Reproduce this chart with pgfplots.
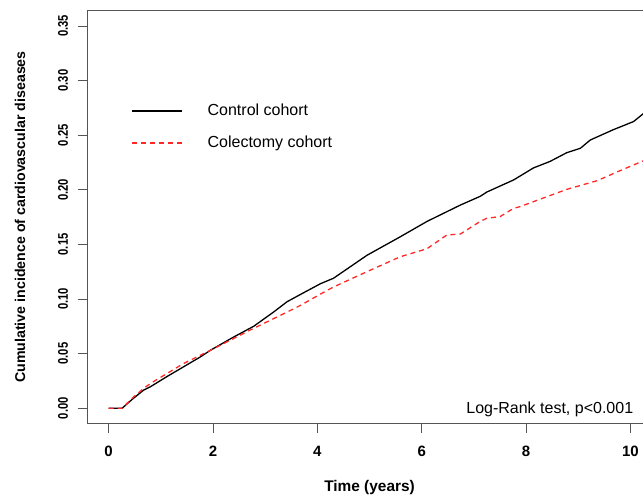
\documentclass[border=0pt]{standalone}
\usepackage{graphicx}
\usepackage{pgfplots}
\pgfplotsset{compat=1.18}
\usepackage{fontspec}
\setmainfont{Liberation Sans}

\definecolor{kmred}{RGB}{255,40,40}
\definecolor{axgray}{RGB}{85,85,85}

% cumulative incidence
\pgfplotstableread{
t      v
0      0
0.26   0
0.45   0.008
0.67   0.0165
0.80   0.0196
1.12   0.029
1.44   0.038
1.76   0.047
1.95   0.053
2.39   0.065
2.78   0.075
3.16   0.088
3.42   0.0975
3.67   0.104
4.06   0.114
4.31   0.119
4.95   0.140
5.59   0.157
6.10   0.171
6.74   0.186
7.12   0.194
7.25   0.198
7.76   0.209
8.14   0.220
8.46   0.226
8.78   0.234
9.04   0.238
9.23   0.2456
9.67   0.255
10.06  0.2625
10.24  0.2695
10.30  0.2710
}\control

\pgfplotstableread{
t      v
0      0
0.26   0
0.48   0.0104
0.67   0.018
0.80   0.0226
1.44   0.041
1.95   0.053
2.71   0.0715
3.42   0.088
3.67   0.094
4.06   0.1045
4.31   0.111
4.95   0.125
5.59   0.1387
6.10   0.146
6.48   0.1586
6.74   0.1595
7.12   0.171
7.25   0.174
7.50   0.1754
7.76   0.183
7.88   0.1845
8.40   0.1937
8.78   0.2004
9.36   0.2083
9.80   0.2175
10.24  0.2264
10.30  0.2275
}\colectomy

\begin{document}
\begin{tikzpicture}
\begin{axis}[
    scale only axis,
    width=563.4pt, height=412.6pt,
    xmin=-0.4, xmax=10.4,
    ymin=-0.014, ymax=0.364,
    axis line style={axgray, line width=0.9pt},
    tick align=outside,
    tick pos=left,
    major tick length=10pt,
    tick style={axgray, line width=0.9pt},
    xtick={0,2,4,6,8,10},
    ytick={0,0.05,0.1,0.15,0.2,0.25,0.3,0.35},
    /pgf/number format/assume math mode=true,
    xticklabel style={font=\fontsize{15pt}{18pt}\selectfont\bfseries, anchor=center, yshift=-18.2pt},
    yticklabel style={font=\fontsize{14pt}{17pt}\selectfont\bfseries, anchor=center, xshift=-14.7pt, rotate=90},
    yticklabel={\scalebox{0.8}[1]{\pgfmathprintnumber[fixed,fixed zerofill,precision=2]{\tick}}},
    xlabel={Time (years)},
    xlabel style={font=\fontsize{15.4pt}{18pt}\selectfont\bfseries, at={(axis description cs:0.5,0)}, anchor=center, yshift=-63.7pt},
    ylabel={Cumulative incidence of cardiovascular diseases},
    ylabel style={font=\fontsize{14.2pt}{17pt}\selectfont\bfseries, at={(axis description cs:0,0.5)}, anchor=center, yshift=67.7pt},
    legend image code/.code={\draw[#1] (0pt,0pt) -- (50pt,0pt); \path (74.6pt,0pt);},
    legend style={at={(axis cs:0.381,0.2574)}, anchor=west, draw=none, fill=none,
        font=\fontsize{16pt}{19pt}\selectfont, row sep=17pt,
        nodes={inner sep=0pt, text height=11.5pt, text depth=3.5pt}},
    legend cell align=left,
]
\coordinate (bl) at (axis cs:-0.4,-0.014);
\coordinate (tr) at (axis cs:10.24,0.364);
\addplot[black, line width=1.3pt] table[x=t, y=v] {\control};
\addlegendentry{Control cohort}
\addplot[kmred, line width=1.3pt, dash pattern=on 5pt off 4pt] table[x=t, y=v] {\colectomy};
\addlegendentry{Colectomy cohort}
\node[anchor=base east, font=\fontsize{16pt}{19pt}\selectfont] at (axis cs:10.12,-0.0046) {Log-Rank test, p<0.001};
\end{axis}
\pgfresetboundingbox
\useasboundingbox ([shift={(-87.7pt,-72.7pt)}]bl) rectangle ([shift={(0pt,10.7pt)}]tr);
\end{tikzpicture}
\end{document}
